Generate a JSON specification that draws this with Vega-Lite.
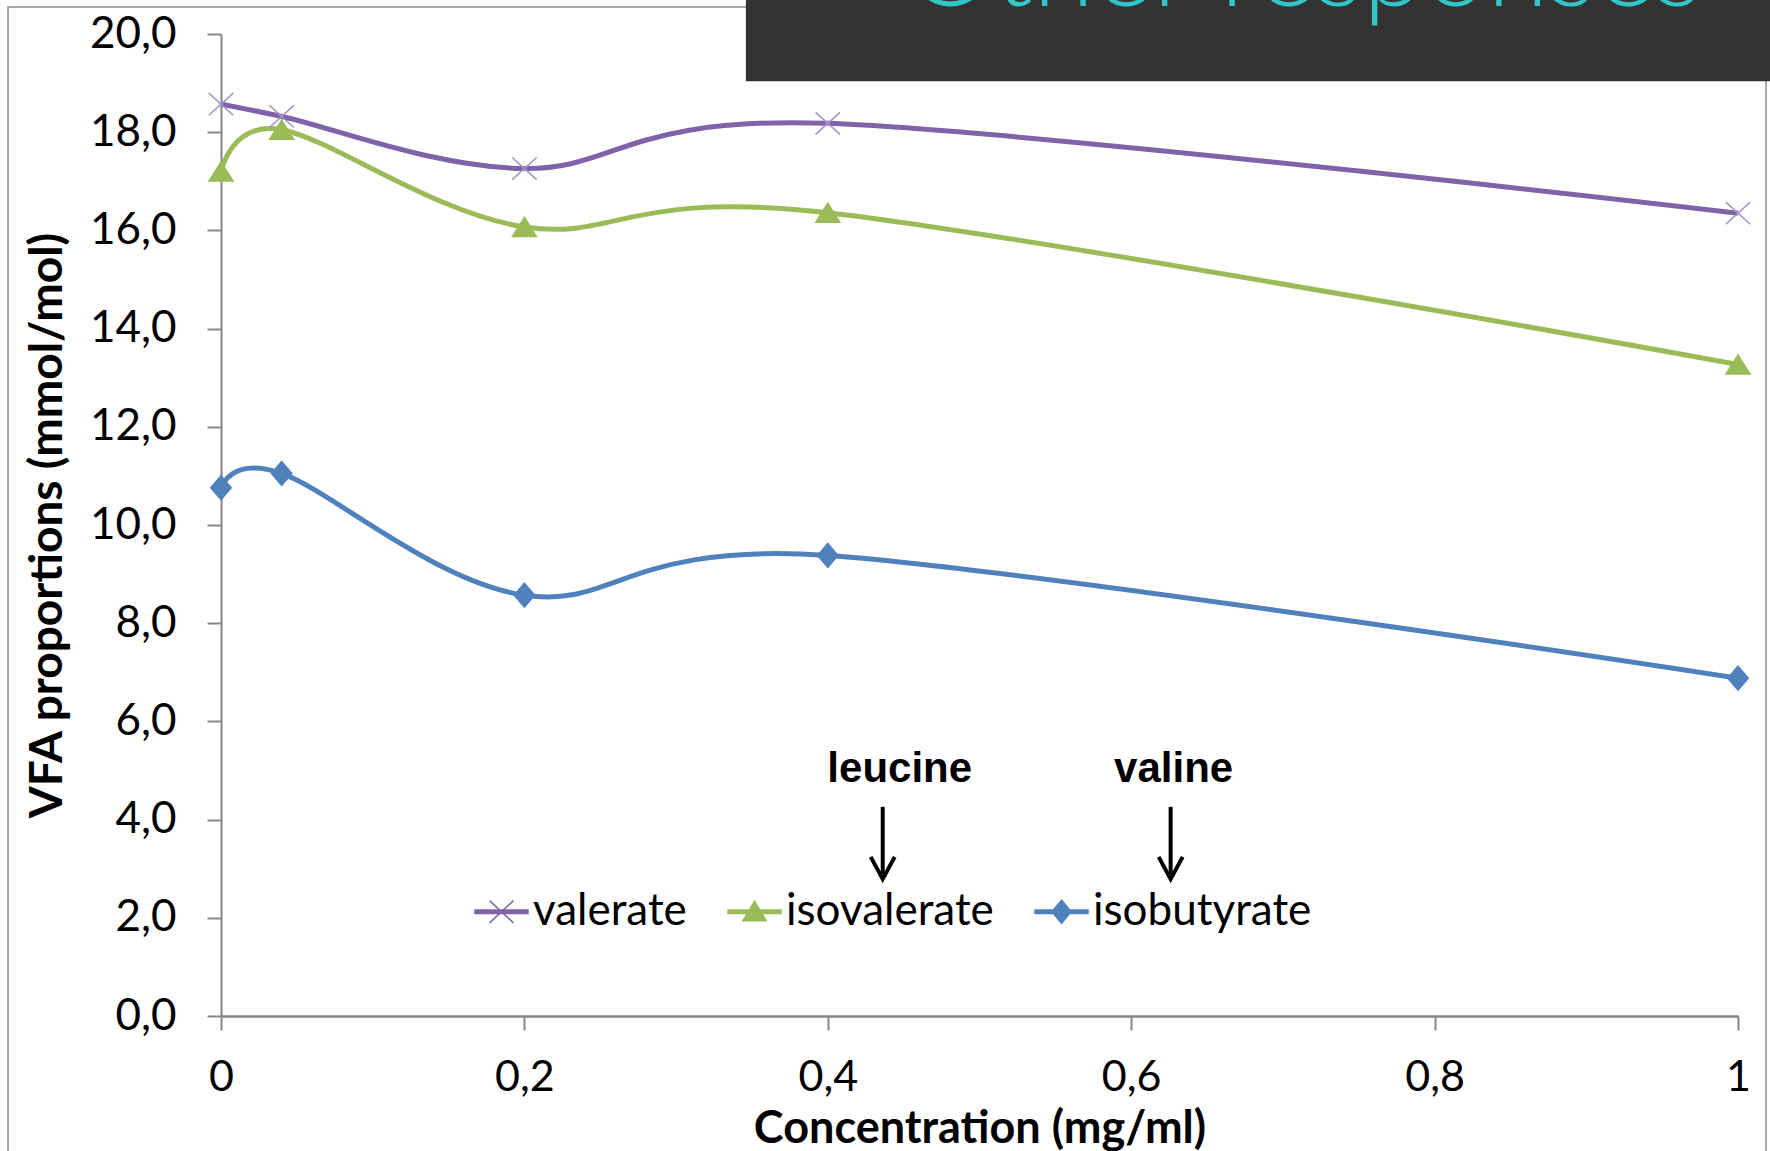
{
  "$schema": "https://vega.github.io/schema/vega-lite/v6.json",
  "width": 1517,
  "height": 982,
  "autosize": {"type": "none"},
  "padding": {"left": 221, "top": 34, "right": 32, "bottom": 135},
  "background": "white",
  "config": {"view": {"stroke": null}, "font": "Lato"},
  "datasets": {
    "vfa": [
      {"series": "valerate", "concentration": 0, "value": 18.57},
      {"series": "valerate", "concentration": 0.04, "value": 18.32},
      {"series": "valerate", "concentration": 0.2, "value": 17.26},
      {"series": "valerate", "concentration": 0.4, "value": 18.18},
      {"series": "valerate", "concentration": 1, "value": 16.35},
      {"series": "isovalerate", "concentration": 0, "value": 17.2},
      {"series": "isovalerate", "concentration": 0.04, "value": 18.05},
      {"series": "isovalerate", "concentration": 0.2, "value": 16.07},
      {"series": "isovalerate", "concentration": 0.4, "value": 16.36},
      {"series": "isovalerate", "concentration": 1, "value": 13.27},
      {"series": "isobutyrate", "concentration": 0, "value": 10.76},
      {"series": "isobutyrate", "concentration": 0.04, "value": 11.05},
      {"series": "isobutyrate", "concentration": 0.2, "value": 8.57},
      {"series": "isobutyrate", "concentration": 0.4, "value": 9.38},
      {"series": "isobutyrate", "concentration": 1, "value": 6.88}
    ],
    "aminoacids": [
      {"label": "leucine", "concentration": 0.4362},
      {"label": "valine", "concentration": 0.626}
    ],
    "single": [{}]
  },
  "layer": [
    {
      "description": "chart-area border",
      "data": {"name": "single"},
      "mark": {"type": "rect", "fill": null, "stroke": "#8c8c8c", "strokeWidth": 1.5},
      "encoding": {
        "x": {"datum": -0.1404, "type": "quantitative", "scale": {"domain": [0, 1], "nice": false, "zero": false}},
        "x2": {"datum": 1.0185},
        "y": {"datum": 20.55, "type": "quantitative", "scale": {"domain": [0, 20], "nice": false}},
        "y2": {"datum": -5}
      }
    },
    {
      "description": "slide header band",
      "data": {"name": "single"},
      "mark": {"type": "rect", "fill": "#333333"},
      "encoding": {
        "x": {"datum": 0.346, "type": "quantitative", "scale": {"domain": [0, 1], "nice": false, "zero": false}},
        "x2": {"datum": 1.06},
        "y": {"datum": 21.5, "type": "quantitative", "scale": {"domain": [0, 20], "nice": false}},
        "y2": {"datum": 19.04}
      }
    },
    {
      "description": "slide header text",
      "data": {"name": "single"},
      "mark": {"type": "text", "text": "Other responses", "font": "Lato", "fontWeight": 300, "fontSize": 112, "fill": "#32C6C8", "align": "center", "baseline": "alphabetic"},
      "encoding": {
        "x": {"datum": 0.714, "type": "quantitative", "scale": {"domain": [0, 1], "nice": false, "zero": false}},
        "y": {"datum": 20.57, "type": "quantitative", "scale": {"domain": [0, 20], "nice": false}}
      }
    },
    {
      "data": {"name": "vfa"},
      "mark": {"type": "line", "interpolate": "cardinal", "strokeWidth": 5},
      "encoding": {
        "x": {
          "field": "concentration", "type": "quantitative",
          "scale": {"domain": [0, 1], "nice": false, "zero": false},
          "axis": {
            "values": [0, 0.2, 0.4, 0.6, 0.8, 1],
            "labelExpr": "replace(format(datum.value, '~g'), '.', ',')",
            "title": "Concentration (mg/ml)",
            "titleFont": "Lato", "titleFontWeight": "bold", "titleFontSize": 45, "titleColor": "black",
            "titleX": 758.5, "titleY": 112, "titleAlign": "center", "titleBaseline": "middle", "titleAnchor": null,
            "labelFont": "Lato", "labelFontSize": 43, "labelColor": "black", "labelBaseline": "middle",
            "labelPadding": 47, "labelFlush": false, "labelOverlap": false,
            "grid": false, "domainColor": "#868686", "domainWidth": 2.5,
            "tickColor": "#868686", "tickWidth": 2, "tickSize": 14
          }
        },
        "y": {
          "field": "value", "type": "quantitative",
          "scale": {"domain": [0, 20], "nice": false},
          "axis": {
            "values": [0, 2, 4, 6, 8, 10, 12, 14, 16, 18, 20],
            "labelExpr": "replace(format(datum.value, '.1f'), '.', ',')",
            "title": "VFA proportions (mmol/mol)",
            "titleFont": "Lato", "titleFontWeight": "bold", "titleFontSize": 46, "titleColor": "black",
            "titleX": -174, "titleY": 491, "titleAngle": -90, "titleAlign": "center", "titleBaseline": "middle", "titleAnchor": null,
            "labelFont": "Lato", "labelFontSize": 44, "labelColor": "black", "labelBaseline": "middle",
            "labelPadding": 31, "labelFlush": false, "labelOverlap": false,
            "grid": false, "domainColor": "#868686", "domainWidth": 2,
            "tickColor": "#868686", "tickWidth": 2, "tickSize": 14
          }
        },
        "color": {
          "field": "series", "type": "nominal",
          "scale": {"domain": ["valerate", "isovalerate", "isobutyrate"], "range": ["#7F62A8", "#9BBB59", "#4F81BD"]},
          "legend": {
            "title": null, "orient": "none", "legendX": 253, "legendY": 850, "direction": "horizontal",
            "padding": 0, "columnPadding": 38, "labelOffset": 4,
            "labelFont": "Lato", "labelFontSize": 44, "labelColor": "black", "labelLimit": 400,
            "symbolSize": 2809,
            "encode": {
              "symbols": {
                "update": {
                  "shape": {"signal": "datum.value === 'valerate' ? 'M-1,-0.07H1V0.07H-1Z M-0.45,-0.42L0.45,0.42M-0.45,0.42L0.45,-0.42' : datum.value === 'isovalerate' ? 'M-1,-0.07H1V0.07H-1Z M0,-0.4L0.44,0.34H-0.44Z' : 'M-1,-0.07H1V0.07H-1Z M0,-0.44L0.36,0L0,0.44L-0.36,0Z'"},
                  "fill": {"scale": "color", "field": "value"},
                  "stroke": {"signal": "datum.value === 'valerate' ? '#A494C9' : scale('color', datum.value)"},
                  "strokeWidth": {"value": 1.5},
                  "opacity": {"value": 1},
                  "fillOpacity": {"value": 1},
                  "strokeOpacity": {"value": 1}
                }
              }
            }
          }
        }
      }
    },
    {
      "data": {"name": "vfa"},
      "transform": [{"filter": "datum.series === 'valerate'"}],
      "mark": {"type": "point", "filled": false, "shape": "M-1,-0.9L1,0.9M-1,0.9L1,-0.9", "size": 600, "stroke": "#A494C9", "strokeWidth": 1.6, "opacity": 1},
      "encoding": {
        "x": {"field": "concentration", "type": "quantitative", "scale": {"domain": [0, 1], "nice": false, "zero": false}},
        "y": {"field": "value", "type": "quantitative", "scale": {"domain": [0, 20], "nice": false}}
      }
    },
    {
      "data": {"name": "vfa"},
      "transform": [{"filter": "datum.series === 'isovalerate'"}],
      "mark": {"type": "point", "filled": true, "shape": "M0,-0.8L1,0.8H-1Z", "size": 576, "fill": "#9BBB59", "stroke": "#9BBB59", "strokeWidth": 1.5, "opacity": 1},
      "encoding": {
        "x": {"field": "concentration", "type": "quantitative", "scale": {"domain": [0, 1], "nice": false, "zero": false}},
        "y": {"field": "value", "type": "quantitative", "scale": {"domain": [0, 20], "nice": false}}
      }
    },
    {
      "data": {"name": "vfa"},
      "transform": [{"filter": "datum.series === 'isobutyrate'"}],
      "mark": {"type": "point", "filled": true, "shape": "M0,-1L0.85,0L0,1L-0.85,0Z", "size": 576, "fill": "#4F81BD", "stroke": "#4F81BD", "strokeWidth": 1.5, "opacity": 1},
      "encoding": {
        "x": {"field": "concentration", "type": "quantitative", "scale": {"domain": [0, 1], "nice": false, "zero": false}},
        "y": {"field": "value", "type": "quantitative", "scale": {"domain": [0, 20], "nice": false}}
      }
    },
    {
      "description": "arrow shafts",
      "data": {"name": "aminoacids"},
      "mark": {"type": "rule", "stroke": "black", "strokeWidth": 4},
      "encoding": {
        "x": {"field": "concentration", "type": "quantitative", "scale": {"domain": [0, 1], "nice": false, "zero": false}},
        "y": {"datum": 4.26, "type": "quantitative", "scale": {"domain": [0, 20], "nice": false}},
        "y2": {"datum": 2.88}
      }
    },
    {
      "description": "arrow heads",
      "data": {"name": "aminoacids"},
      "mark": {"type": "point", "filled": false, "stroke": "black", "strokeWidth": 4, "strokeJoin": "miter", "opacity": 1, "size": 576, "shape": "M-1,-0.9L0,0.95L1,-0.9"},
      "encoding": {
        "x": {"field": "concentration", "type": "quantitative", "scale": {"domain": [0, 1], "nice": false, "zero": false}},
        "y": {"datum": 3.02, "type": "quantitative", "scale": {"domain": [0, 20], "nice": false}}
      }
    },
    {
      "data": {"name": "aminoacids"},
      "transform": [{"filter": "datum.label === 'leucine'"}],
      "mark": {"type": "text", "font": "Liberation Sans", "fontWeight": "bold", "fontSize": 42, "fill": "black", "align": "center", "baseline": "middle", "dx": 17},
      "encoding": {
        "x": {"field": "concentration", "type": "quantitative", "scale": {"domain": [0, 1], "nice": false, "zero": false}},
        "y": {"datum": 5.03, "type": "quantitative", "scale": {"domain": [0, 20], "nice": false}},
        "text": {"field": "label"}
      }
    },
    {
      "data": {"name": "aminoacids"},
      "transform": [{"filter": "datum.label === 'valine'"}],
      "mark": {"type": "text", "font": "Liberation Sans", "fontWeight": "bold", "fontSize": 42, "fill": "black", "align": "center", "baseline": "middle", "dx": 3},
      "encoding": {
        "x": {"field": "concentration", "type": "quantitative", "scale": {"domain": [0, 1], "nice": false, "zero": false}},
        "y": {"datum": 5.03, "type": "quantitative", "scale": {"domain": [0, 20], "nice": false}},
        "text": {"field": "label"}
      }
    }
  ]
}
